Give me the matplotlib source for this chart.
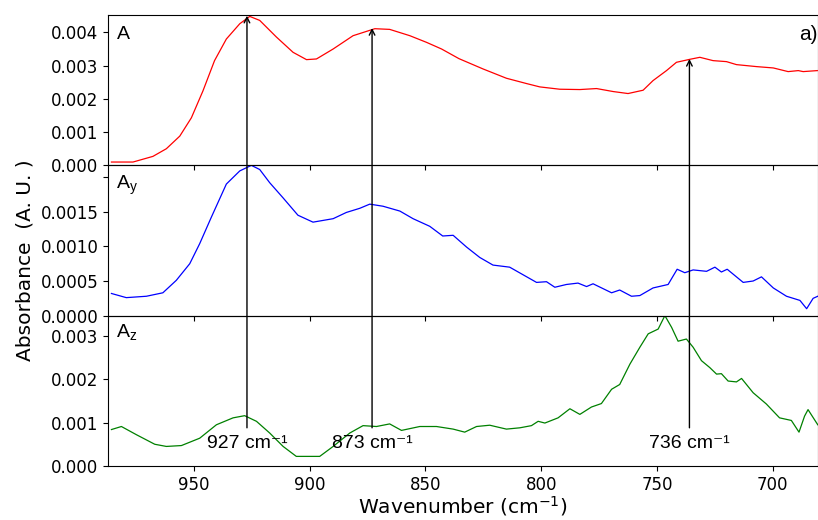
import matplotlib
matplotlib.use('Agg')
from matplotlib import pyplot as plt
from matplotlib.patches import ConnectionPatch

# espectro total A
wn_A = [985.5, 976.2, 967.6, 961.8, 956, 951, 946, 941, 935.9, 930.1, 925.8, 921.5,
        914.3, 907.1, 901.3, 897, 889.8, 881.2, 871.8, 865.4, 856.7, 849.5, 843,
        835.5, 825.1, 815, 806.3, 800.6, 792, 783.3, 776.1, 768.9, 762.5, 756,
        751.7, 745.9, 741.6, 735.8, 731.5, 725.8, 720, 715.7, 707, 699.8, 693.4,
        689, 686.9, 680.8]
abs_A = [0.10, 0.10, 0.27, 0.50, 0.88, 1.43, 2.24, 3.15, 3.80, 4.26, 4.48, 4.36,
         3.86, 3.40, 3.18, 3.20, 3.50, 3.90, 4.11, 4.09, 3.90, 3.70, 3.50, 3.21,
         2.90, 2.62, 2.46, 2.36, 2.29, 2.28, 2.31, 2.22, 2.16, 2.26, 2.55, 2.85,
         3.10, 3.19, 3.25, 3.15, 3.12, 3.03, 2.97, 2.93, 2.82, 2.85, 2.82, 2.85]
abs_A = [v * 1e-3 for v in abs_A]

# componente y
wn_Ay = [985.5, 979.1, 970.4, 963.3, 957.5, 951.7, 947.4, 942.4, 935.9, 930.1,
         925.1, 921.5, 917.2, 911.4, 905, 898.5, 889.8, 884.1, 878.3, 874, 868.3,
         861, 855.3, 848.1, 842.5, 838, 832.2, 826.5, 820.8, 813.6, 807.8, 802,
         797.7, 794.1, 789.1, 784.1, 780.4, 777.6, 769.6, 766.1, 761, 757.4, 751.7,
         745.2, 741.3, 738, 734.4, 728.6, 725, 722.2, 719.7, 712.8, 708.5, 704.9,
         699.8, 694.1, 688.3, 685.4, 682.6, 680.6]
abs_Ay = [3.2, 2.6, 2.8, 3.3, 5.1, 7.5, 10.4, 14.2, 19.0, 20.9, 21.7, 21.1, 19.2,
          17.0, 14.5, 13.5, 14.0, 14.9, 15.5, 16.1, 15.8, 15.1, 14.0, 12.9, 11.5,
          11.6, 9.9, 8.4, 7.3, 7.0, 5.9, 4.8, 4.9, 4.1, 4.5, 4.7, 4.2, 4.6, 3.3,
          3.7, 2.8, 2.9, 4.0, 4.5, 6.7, 6.2, 6.6, 6.4, 7.0, 6.3, 6.7, 4.8, 5.0,
          5.6, 4.0, 2.8, 2.2, 1.0, 2.5, 2.8]
abs_Ay = [v * 1e-4 for v in abs_Ay]

# componente z
wn_Az = [985.5, 981.2, 974.7, 966.8, 961.8, 955.3, 947.4, 940.2, 933, 928, 922.9,
         917.2, 911.4, 905.7, 899.9, 895.6, 889.8, 882.6, 876.9, 871.1, 865.4,
         860.3, 852.4, 845.2, 838, 833, 827.9, 822.2, 815, 809.2, 804.2, 801.3,
         798.4, 792.7, 787.6, 783.3, 778.3, 774, 769.6, 766.1, 761.7, 757.4, 753.8,
         749.5, 746.6, 743.7, 740.9, 737.3, 734.4, 730.8, 727.2, 724.3, 722.2,
         719.3, 715.7, 713.5, 708.5, 702.8, 697.1, 692, 688.7, 686.3, 684.8, 680.6]
abs_Az = [8.4, 9.1, 7.2, 5.0, 4.5, 4.7, 6.4, 9.5, 11.1, 11.6, 10.3, 7.6, 4.5, 2.2,
          2.2, 2.2, 4.5, 7.6, 9.3, 9.1, 9.7, 8.2, 9.1, 9.1, 8.5, 7.8, 9.1, 9.4,
          8.5, 8.8, 9.3, 10.3, 9.9, 11.1, 13.2, 11.9, 13.6, 14.4, 17.7, 18.8,
          23.5, 27.4, 30.5, 31.6, 34.7, 32.0, 28.8, 29.3, 27.4, 24.3, 22.7, 21.2,
          21.3, 19.6, 19.4, 20.2, 16.9, 14.3, 11.1, 10.5, 7.8, 11.5, 13.0, 9.5]
abs_Az = [v * 1e-4 for v in abs_Az]

# picos marcados
picos = [927, 873, 736]
picos_altura = [0.00450, 0.00413, 0.00320]
etiquetas = ['927 cm⁻¹', '873 cm⁻¹', '736 cm⁻¹']

fig, (ax1, ax2, ax3) = plt.subplots(3, 1, sharex=True, figsize=(8.18, 5.2), dpi=100)
fig.subplots_adjust(left=0.132, right=1.0, top=0.971, bottom=0.104, hspace=0)

ax1.plot(wn_A, abs_A, 'r', lw=0.9)
ax2.plot(wn_Ay, abs_Ay, 'b', lw=0.9)
ax3.plot(wn_Az, abs_Az, 'g', lw=0.9)

ax1.set_xlim(987, 680.5)
ax1.set_ylim(0, 0.00452)
ax2.set_ylim(0, 0.00217)
ax3.set_ylim(0, 0.00347)

ax1.set_yticks([0, 0.001, 0.002, 0.003, 0.004])
ax2.set_yticks([0, 0.0005, 0.001, 0.0015, 0.002],
               ['0.0000', '0.0005', '0.0010', '0.0015', ''])
ax3.set_yticks([0, 0.001, 0.002, 0.003])
ax3.set_xticks([950, 900, 850, 800, 750, 700])

for ax in (ax1, ax2, ax3):
    ax.tick_params(labelsize=12)
    ax.patch.set_alpha(0)

fuente = ['Liberation Sans', 'DejaVu Sans']
ax1.text(0.012, 0.84, 'A', transform=ax1.transAxes, fontsize=14, family=fuente)
ax2.text(0.012, 0.842, r'A$_\mathregular{y}$', transform=ax2.transAxes, fontsize=14, family=fuente)
ax3.text(0.012, 0.852, r'A$_\mathregular{z}$', transform=ax3.transAxes, fontsize=14, family=fuente)
ax1.text(1.0, 0.832, 'a)', transform=ax1.transAxes, fontsize=15, family=fuente, ha='right')

# flechas desde el panel inferior hasta el pico del superior
for x, h, et in zip(picos, picos_altura, etiquetas):
    flecha = ConnectionPatch(xyA=(x, 0.00088), coordsA=ax3.transData,
                             xyB=(x, h), coordsB=ax1.transData,
                             arrowstyle='->', color='k', lw=1, zorder=5)
    fig.add_artist(flecha)
    ax3.text(x, 0.00052, et, ha='center', va='center', fontsize=14, family=fuente)

ax3.set_xlabel('Wavenumber (cm$^{-1}$)', fontsize=14.5, labelpad=0)
fig.text(0.03, 0.5, 'Absorbance  (A. U. )', rotation=90, va='center', ha='center', fontsize=14.5)

plt.savefig('out.png', dpi=100)
